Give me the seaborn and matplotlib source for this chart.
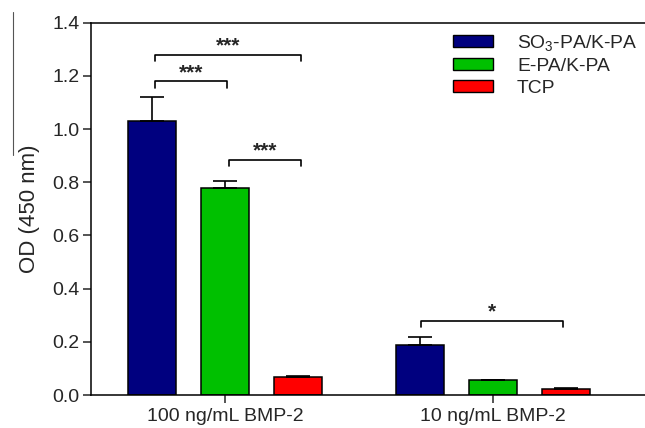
import matplotlib
matplotlib.use("Agg")
import matplotlib.pyplot as plt
import seaborn as sns
import pandas as pd
from matplotlib.lines import Line2D
from matplotlib.patches import Patch

# data
doses = ["100 ng/mL BMP-2", "10 ng/mL BMP-2"]
materials = ["SO3-PA/K-PA", "E-PA/K-PA", "TCP"]
legend_labels = ["SO$_3$-PA/K-PA", "E-PA/K-PA", "TCP"]
od_100 = [1.03, 0.778, 0.068]
od_10 = [0.19, 0.056, 0.022]
err_100 = [0.09, 0.028, 0.004]
err_10 = [0.03, 0.002, 0.004]
colors = ["#00007F", "#00C000", "#FF0000"]

# significance brackets: x-left, x-right, height, label
sig_x1 = [-0.26, -0.26, 0.015, 0.73]
sig_x2 = [0.285, 0.007, 0.285, 1.26]
sig_y = [1.28, 1.18, 0.885, 0.28]
sig_text = ["***", "***", "***", "*"]

df = pd.DataFrame({
    "dose": doses * 3,
    "material": [m for m in materials for _ in doses],
    "od": [od_100[i] if d == 0 else od_10[i] for i in range(3) for d in range(2)],
})

sns.set_style("ticks")
plt.rcParams["font.family"] = ["Liberation Sans", "DejaVu Sans"]
plt.rcParams["mathtext.fontset"] = "custom"
plt.rcParams["mathtext.rm"] = "Liberation Sans"
plt.rcParams["mathtext.it"] = "Liberation Sans:italic"

fig = plt.figure(figsize=(6.45, 4.28), dpi=100)
ax = fig.add_axes([0.141, 0.077, 0.859, 0.870])

sns.barplot(data=df, x="dose", y="od", hue="material", order=doses,
            hue_order=materials, palette=colors, saturation=1, width=0.817, gap=0.33,
            edgecolor="black", linewidth=1.1, errorbar=None, legend=False, ax=ax)

# error bars (upper only)
for cont, e100, e10 in zip(ax.containers, err_100, err_10):
    for bar, e in zip(cont, [e100, e10]):
        cx = bar.get_x() + bar.get_width() / 2
        ax.errorbar(cx, bar.get_height(), yerr=[[0], [e]], fmt="none",
                    ecolor="black", elinewidth=1.2, capsize=8.5, capthick=1.2, zorder=3)

# significance brackets
for x1, x2, y, t in zip(sig_x1, sig_x2, sig_y, sig_text):
    ax.plot([x1, x1, x2, x2], [y - 0.025, y, y, y - 0.025], color="black", lw=1.2)
    ax.text((x1 + x2) / 2, y + 0.012, t, ha="center", va="baseline",
            fontsize=15, fontweight="bold")

ax.set_ylim(0, 1.4)
ax.set_xlim(-0.5, 1.567)
ax.set_yticks([0.0, 0.2, 0.4, 0.6, 0.8, 1.0, 1.2, 1.4])
ax.set_yticklabels([f"{v:.1f}" for v in ax.get_yticks()])
ax.set_xlabel("")
ax.set_ylabel("OD (450 nm)", fontsize=16, labelpad=9)
ax.tick_params(axis="y", labelsize=14, length=6, width=1.1, direction="out", pad=2)
ax.tick_params(axis="x", labelsize=14, length=6, width=1.1, direction="out", pad=3)
for s in ["left", "bottom", "top"]:
    ax.spines[s].set_linewidth(1.1)
    ax.spines[s].set_color("black")
ax.spines["right"].set_visible(False)

handles = [Patch(facecolor=c, edgecolor="black", linewidth=1.0) for c in colors]
fig.legend(handles, legend_labels, loc="upper left",
           bbox_to_anchor=(453 / 645, 1 - 33 / 428), frameon=False, fontsize=13.9,
           borderpad=0, borderaxespad=0, handlelength=2.07, handleheight=0.62,
           handletextpad=1.25, labelspacing=0.25)

# thin stray line at the far left of the reference
fig.add_artist(Line2D([13 / 645, 13 / 645], [1 - 12 / 428, 1 - 155 / 428],
                      color="#555555", lw=0.8))

fig.savefig("out.png", dpi=100)
